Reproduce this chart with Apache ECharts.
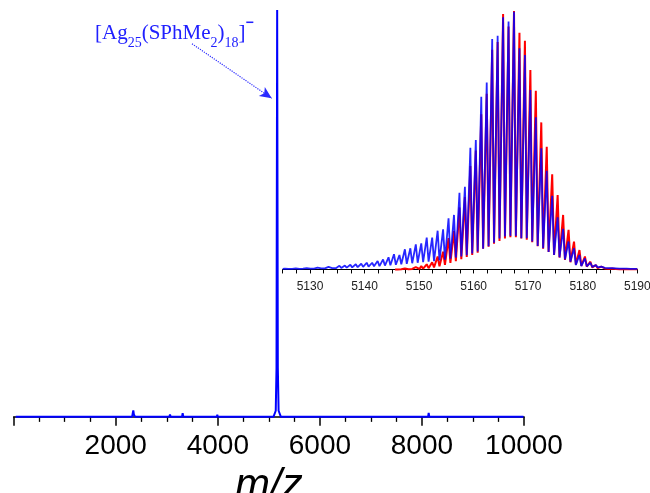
<!DOCTYPE html>
<html><head><meta charset="utf-8">
<script src="https://cdn.jsdelivr.net/npm/echarts@6/dist/echarts.min.js"></script>
<style>html,body{margin:0;padding:0;background:#fff}#c{width:650px;height:493px}</style>
</head><body><div id="c"></div>
<script>
// ---- main spectrum (m/z, relative intensity %) ----
const mainMz  = [40,400,410,420,700,710,720,1000,1010,1020,1400,1410,1420,1800,1810,1820,2320,2335,2344,2355,2380,2700,2710,2720,3050,3063,3076,3298,3311,3324,3600,3610,3620,3980,3990,4000,4500,4510,4520,5090,5135,5150,5163,5176,5191,5236,5480,5490,5500,5861,5871,5881,6320,6330,6340,6776,6786,6796,7202,7212,7222,7625,7635,7645,8120,8132,8144,8593,8603,8613,9095,9105,9115,9584,9594,9604,9990];
const mainInt = [0,0,0.4,0,0,0.4,0,0,0.4,0,0,0.4,0,0,0.4,0,0,1.0,1.6,0.6,0,0,0.4,0,0,0.6,0,0,0.9,0,0,0.3,0,0,0.5,0,0,0.3,0,0,1.5,12,100,12,1.5,0,0,0.3,0,0,0.3,0,0,0.3,0,0,0.3,0,0,0.3,0,0,0.3,0,0,1.0,0,0,0.3,0,0,0.3,0,0,0.3,0,0];
const mainTicks = [2000,4000,6000,8000,10000];

// ---- inset: isotope pattern, experimental (blue) ----
// peak apex positions, apex heights, and the valley floor after each peak
const bluePeakMz = [5125.4,5126.4,5127.4,5128.4,5129.4,5130.4,5131.4,5132.4,5133.4,5134.4,5135.4,5136.4,5137.4,5138.4,5139.4,5140.4,5141.4,5142.4,5143.4,5144.4,5145.4,5146.4,5147.4,5148.4,5149.4,5150.4,5151.4,5152.4,5153.4,5154.4,5155.4,5156.4,5157.4,5158.4,5159.4,5160.4,5161.4,5162.4,5163.4,5164.4,5165.4,5166.4,5167.4,5168.4,5169.4,5170.4,5171.4,5172.4,5173.4,5174.4,5175.4,5176.4,5177.4,5178.4,5179.4,5180.4,5181.4,5182.4,5183.4,5184.4,5185.4,5186.4,5187.4,5188.4,5189.4];
const blueTop = [0.3,0.3,0.4,0.4,0.5,0.6,0.7,0.8,1.0,1.2,1.4,1.5,1.8,2.0,2.2,2.6,2.6,3.3,3.9,4.7,5.9,5.6,7.8,8.2,9.7,10.1,12.3,12.3,15.0,15.5,19.8,21.1,29.7,32.0,47.1,50.1,66.8,72.3,89.2,90.4,97.6,95.9,99.7,85.6,83.0,69.4,58.9,46.9,38.2,28.5,20.2,15.7,10.8,8.2,5.6,4.3,2.6,1.7,1.1,0.7,0.5,0.4,0.3,0.3,0.2];
const blueValley = [0.2,0.2,0.2,0.3,0.3,0.3,0.4,0.4,0.5,0.5,0.6,0.7,0.8,0.9,1.0,1.1,1.2,1.3,1.5,1.6,1.8,2.0,2.2,2.4,2.6,2.8,3.0,3.2,3.5,3.8,4.2,4.6,5.0,5.5,6.2,7.0,8.0,9.0,10.3,12.0,12.8,13.0,13.0,12.1,12.1,10.8,9.1,8.2,6.8,5.6,4.7,3.9,3.0,1.7,1.3,1.2,1.0,0.8,0.6,0.5,0.4,0.3,0.3,0.2,0.2];
const blueStart = [5125.0, 0.2];
const blueEnd = 5190.0;

// ---- inset: simulated (red) ----
const redPeakMz = [5146.4,5147.4,5148.4,5149.4,5150.4,5151.4,5152.4,5153.4,5154.4,5155.4,5156.4,5157.4,5158.4,5159.4,5160.4,5161.4,5162.4,5163.4,5164.4,5165.4,5166.4,5167.4,5168.4,5169.4,5170.4,5171.4,5172.4,5173.4,5174.4,5175.4,5176.4,5177.4,5178.4,5179.4,5180.4,5181.4,5182.4,5183.4,5184.4,5185.4,5186.4,5187.4,5188.4,5189.4];
const redTop = [0.3,0.4,0.6,0.9,1.3,2.0,2.8,5.0,6.9,12.1,14.9,24,28,40,46,60,68,85,88,98.8,94,100,91.6,88.5,77.2,69.1,56.9,47.5,36.8,28.8,21.1,15.3,10.8,7.5,5.0,3.0,1.7,1.1,0.7,0.4,0.3,0.2,0.1,0.1];
const redValley = [0.1,0.1,0.2,0.2,0.3,0.5,0.8,1.2,1.8,2.5,3.2,4.0,4.8,5.6,6.5,8.0,8.8,10.0,11.0,12.0,12.5,12.5,12.0,11.5,10.5,9.0,8.0,6.8,5.6,4.6,3.7,2.8,1.9,1.4,1.1,0.8,0.5,0.4,0.3,0.2,0.1,0.1,0.1,0.1];
const redStart = [5145.6, 0.0];
const redEnd = 5190.0;
const insetTicks = [5130,5140,5150,5160,5170,5180,5190];

// peak shape: half width of each spike's base (m/z units)
const halfBase = 0.34;
function profile(start, end, pMz, pTop, vVal) {
  const pts = [start.slice()];
  let floor = start[1];
  for (let i = 0; i < pMz.length; i++) {
    pts.push([pMz[i] - halfBase, floor]);
    pts.push([pMz[i], pTop[i]]);
    floor = vVal[i];
    pts.push([pMz[i] + halfBase, floor]);
  }
  pts.push([end, floor]);
  return pts;
}
const mainData = mainMz.map((m, i) => [m, mainInt[i]]);
const blueData = profile(blueStart, blueEnd, bluePeakMz, blueTop, blueValley);
const redData = profile(redStart, redEnd, redPeakMz, redTop, redValley);

const chart = echarts.init(document.getElementById('c'), null, {renderer: 'canvas'});
const sans = 'Liberation Sans, Arial, sans-serif';
const serif = 'Liberation Serif, Times New Roman, serif';
chart.setOption({
  animation: false,
  backgroundColor: '#fff',
  grid: [
    {left: 13.7, right: 126, top: 10, bottom: 74.5, containLabel: false, outerBoundsMode: 'none'},
    {left: 282.7, right: 12.7, top: 11, bottom: 222.5, containLabel: false, outerBoundsMode: 'none'}
  ],
  xAxis: [
    {gridIndex: 0, type: 'value', min: 0, max: 10000, interval: 2000,
     axisLine: {show: true, lineStyle: {color: '#000', width: 1.6}},
     axisTick: {show: true, inside: false, length: 9, lineStyle: {color: '#000', width: 1.5}},
     minorTick: {show: true, splitNumber: 4, length: 5, lineStyle: {color: '#000', width: 1.3}},
     splitLine: {show: false}, minorSplitLine: {show: false},
     axisLabel: {margin: 14, fontFamily: sans, fontSize: 28, color: '#000',
       formatter: v => mainTicks.includes(v) ? String(v) : ''},
     name: 'm/z', nameLocation: 'middle', nameGap: 36,
     nameTextStyle: {fontFamily: sans, fontStyle: 'italic', fontSize: 42, color: '#000'}},
    {gridIndex: 1, type: 'value', min: 5125, max: 5190, interval: 2.5,
     axisLine: {show: true, lineStyle: {color: '#000', width: 1}},
     axisTick: {show: true, inside: false, length: 4, lineStyle: {color: '#000', width: 1}},
     splitLine: {show: false},
     axisLabel: {margin: 10, fontFamily: sans, fontSize: 12, color: '#222',
       formatter: v => insetTicks.includes(Math.round(v * 10) / 10) ? String(Math.round(v)) : ''}}
  ],
  yAxis: [
    {gridIndex: 0, type: 'value', min: -0.4, max: 100, show: false},
    {gridIndex: 1, type: 'value', min: -0.4, max: 100, show: false}
  ],
  series: [
    {type: 'line', xAxisIndex: 0, yAxisIndex: 0, data: mainData, showSymbol: false, symbol: 'none',
     lineStyle: {color: '#0000ff', width: 2}, z: 3,
     markLine: {silent: true, symbol: ['none', 'arrow'], symbolSize: [8, 12],
       label: {show: false},
       lineStyle: {color: '#2a2aff', type: 'dotted', width: 1.2},
       data: [[{coord: [3494, 91.7]}, {coord: [5056, 78.3]}]]}},
    {type: 'line', xAxisIndex: 1, yAxisIndex: 1, data: redData, showSymbol: false, symbol: 'none',
     lineStyle: {color: '#ff0000', width: 2}, z: 2},
    {type: 'line', xAxisIndex: 1, yAxisIndex: 1, data: blueData, showSymbol: false, symbol: 'none',
     lineStyle: {color: 'rgba(0,0,255,0.85)', width: 1.8}, z: 3}
  ],
  graphic: [
    {type: 'text', left: 95, top: 16, z: 10,
     style: {
       text: '{m|[Ag}{s|25}{m|(SPhMe}{s|2}{m|)}{s|18}{m|]}{p|−}',
       rich: {
         m: {fontFamily: serif, fontSize: 21, lineHeight: 34, verticalAlign: 'middle', fill: '#2020ff'},
         s: {fontFamily: serif, fontSize: 14, lineHeight: 18, verticalAlign: 'bottom', fill: '#2020ff'},
         p: {fontFamily: sans, fontSize: 14, lineHeight: 14, verticalAlign: 'top', fill: '#2020ff', fontWeight: 'bold'}
       }
     }}
  ]
});
</script></body></html>
